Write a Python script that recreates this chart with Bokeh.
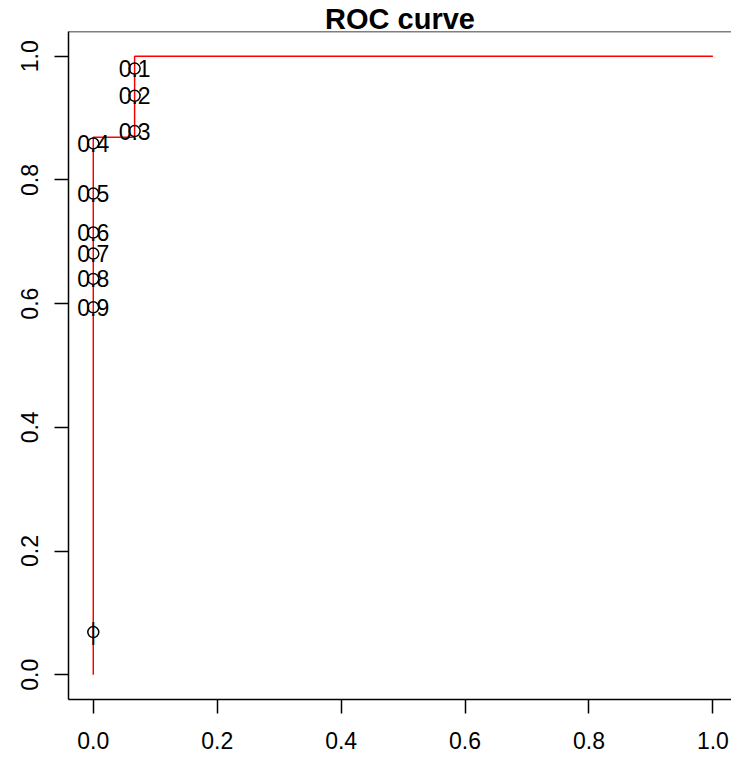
from bokeh.plotting import figure
from bokeh.models import ColumnDataSource, FixedTicker, Range1d, Span
from bokeh.core.properties import value
from bokeh.embed import file_html
from bokeh.resources import INLINE

# ROC curve (false positive rate, true positive rate)
curve_fpr = [0.0, 0.0, 0.0667, 0.0667, 1.0]
curve_tpr = [0.0, 0.869, 0.869, 1.0, 1.0]

# cutoff points printed on the curve
cut_labels = ["0.1", "0.2", "0.3", "0.4", "0.5", "0.6", "0.7", "0.8", "0.9", "|"]
cut_fpr = [0.0667, 0.0667, 0.0667, 0.0, 0.0, 0.0, 0.0, 0.0, 0.0, 0.0]
cut_tpr = [0.980, 0.936, 0.879, 0.859, 0.778, 0.715, 0.681, 0.640, 0.594, 0.069]

tick_values = [0.0, 0.2, 0.4, 0.6, 0.8, 1.0]
tick_labels = {0.0: "0.0", 0.2: "0.2", 0.4: "0.4", 0.6: "0.6", 0.8: "0.8", 1.0: "1.0"}

FONT = "Liberation Sans"

p = figure(
    frame_width=663, frame_height=668,
    min_border_left=68, min_border_right=0, min_border_top=31, min_border_bottom=62,
    x_range=Range1d(-0.04, 1.03), y_range=Range1d(-0.04, 1.04),
    output_backend="svg", toolbar_location=None,
    title="ROC curve",
)
p.background_fill_color = "white"
p.border_fill_color = "white"
p.outline_line_color = None
p.xgrid.visible = False
p.ygrid.visible = False

p.title.align = "center"
p.title.text_font = FONT
p.title.text_font_size = "29px"
p.title.text_font_style = "bold"
p.title.text_color = "black"
p.title.vertical_align = "bottom"
p.title.standoff = -7

for ax in (p.xaxis[0], p.yaxis[0]):
    ax.ticker = FixedTicker(ticks=tick_values)
    ax.major_label_overrides = tick_labels
    ax.axis_line_color = "black"
    ax.axis_line_width = 1.5
    ax.major_tick_line_color = "black"
    ax.major_tick_line_width = 1.5
    ax.major_tick_out = 14
    ax.major_tick_in = 0
    ax.minor_tick_line_color = None
    ax.major_label_text_font = FONT
    ax.major_label_text_font_size = "23px"
    ax.major_label_text_color = "black"

p.xaxis[0].major_label_standoff = 18
p.yaxis[0].major_label_standoff = 16
p.yaxis[0].major_label_orientation = "vertical"

# top border of the box
p.add_layout(Span(location=1.04, dimension="width", line_color="black", line_width=1.5))

src_curve = ColumnDataSource(dict(x=curve_fpr, y=curve_tpr))
p.line("x", "y", source=src_curve, line_color="red", line_width=1.5)

src_cut = ColumnDataSource(dict(x=cut_fpr, y=cut_tpr, t=cut_labels))
p.text("x", "y", text="t", source=src_cut, text_font=value(FONT), text_font_size="23px",
       text_align="center", text_baseline="middle", text_color="black")
p.scatter("x", "y", source=src_cut, marker="circle", size=11, fill_color=None,
          line_color="black", line_width=1.5)

open("out.html", "w").write(file_html(p, INLINE))
